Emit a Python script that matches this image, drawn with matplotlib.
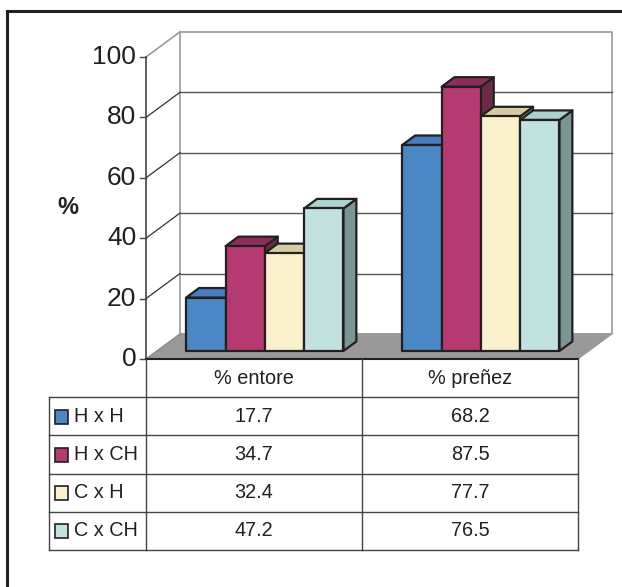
import numpy as np
import matplotlib
matplotlib.use("Agg")
import matplotlib.pyplot as plt
from matplotlib.lines import Line2D

plt.rcParams['font.family'] = ['Liberation Sans', 'DejaVu Sans']

# datos
categorias = ['% entore', '% preñez']
series = ['H x H', 'H x CH', 'C x H', 'C x CH']
valores = {
    'H x H': [17.7, 68.2],
    'H x CH': [34.7, 87.5],
    'C x H': [32.4, 77.7],
    'C x CH': [47.2, 76.5],
}
ticks_y = [0, 20, 40, 60, 80, 100]

# colores: frente, tapa, lateral
colores = {
    'H x H': ('#4b87c5', '#4a7cc0', '#2f5a8a'),
    'H x CH': ('#b53a72', '#8e2d5b', '#6c2c47'),
    'C x H': ('#faf0ce', '#d6cca4', '#a8a080'),
    'C x CH': ('#c2e2e0', '#acd2cf', '#7a9694'),
}
borde = '#231f20'

# profundidad del grafico 3D (en unidades de datos)
DX, DY = 0.157, 8.3
Z0, Z1 = 0.32, 0.70
ANCHO = 0.182


def p(x, y, z):
    return x + z * DX, y + z * DY


def cara(ax, pts, color, lw=1.6, ec=borde, z=3):
    xs = [q[0] for q in pts]
    ys = [q[1] for q in pts]
    ax.fill(xs, ys, facecolor=color, edgecolor=ec, linewidth=lw,
            clip_on=False, zorder=z, joinstyle='round')


W, H = 622, 587
fig = plt.figure(figsize=(W / 100, H / 100), dpi=100)

# ejes principales: x 146..578 px, y 359..57 px
ax = fig.add_axes([146 / W, (H - 359) / H, (578 - 146) / W, (359 - 57) / H])
ax.set_xlim(0, 2)
ax.set_ylim(0, 100)
ax.axis('off')

# pared del fondo
fondo = [p(0, 0, 1), p(2, 0, 1), p(2, 100, 1), p(0, 100, 1)]
cara(ax, fondo, 'white', lw=1.2, ec='#999999', z=0)
# piso
piso = [p(0, 0, 0), p(2, 0, 0), p(2, 0, 1), p(0, 0, 1)]
cara(ax, piso, '#999999', lw=0.8, ec='#999999', z=1)

# grilla en la pared del fondo y en la pared lateral
for t in ticks_y[1:-1]:
    x0, y0 = p(0, t, 1)
    x1, y1 = p(2, t, 1)
    ax.plot([x0, x1], [y0, y1], color='#555555', lw=1.0, clip_on=False, zorder=1)
    xa, ya = p(0, t, 0)
    ax.plot([xa, x0], [ya, y0], color='#333333', lw=0.9, clip_on=False, zorder=1)
xa, ya = p(0, 100, 0)
xb, yb = p(0, 100, 1)
ax.plot([xa, xb], [ya, yb], color='#999999', lw=1.2, clip_on=False, zorder=1)
xa, ya = p(0, 0, 0)
xb, yb = p(0, 0, 1)
ax.plot([xa, xb], [ya, yb], color='#888888', lw=0.8, clip_on=False, zorder=1)

# eje y
ax.plot([0, 0], [0, 100], color='#444444', lw=1.2, clip_on=False, zorder=2)
for t in ticks_y:
    ax.plot([-0.028, 0], [t, t], color='#444444', lw=1.0, clip_on=False, zorder=2)
    ax.text(-0.045, t, str(t), ha='right', va='center', fontsize=19, color='#231f20')
ax.text(-0.361, 50.3, '%', ha='center', va='center', fontsize=17, fontweight='bold',
        color='#231f20')

# barras
for c in range(len(categorias)):
    x_ini = c + (1 - ANCHO * len(series)) / 2
    for i, s in enumerate(series):
        v = valores[s][c]
        xl = x_ini + i * ANCHO
        xr = xl + ANCHO
        fr, tp, ld = colores[s]
        cara(ax, [p(xr, 0, Z0), p(xr, 0, Z1), p(xr, v, Z1), p(xr, v, Z0)], ld)
        cara(ax, [p(xl, v, Z0), p(xr, v, Z0), p(xr, v, Z1), p(xl, v, Z1)], tp)
        cara(ax, [p(xl, 0, Z0), p(xr, 0, Z0), p(xr, v, Z0), p(xl, v, Z0)], fr)

# borde frontal del piso
ax.plot([0, 2], [0, 0], color='#231f20', lw=1.5, clip_on=False, zorder=4)

# tabla de datos
at = fig.add_axes([49 / W, (H - 550) / H, (578 - 49) / W, (550 - 359) / H])
x_izq = -97 / 216
at.set_xlim(x_izq, 2)
at.set_ylim(5, 0)
at.axis('off')
lc = '#444444'
# encabezado
for xv in [0, 1, 2]:
    at.plot([xv, xv], [0, 5], color=lc, lw=1.0, clip_on=False)
at.plot([x_izq, x_izq], [1, 5], color=lc, lw=1.0, clip_on=False)
for r in range(1, 6):
    at.plot([x_izq, 2], [r, r], color=lc, lw=1.0, clip_on=False)
for c, nombre in enumerate(categorias):
    at.text(c + 0.5, 0.5, nombre, ha='center', va='center', fontsize=14.3,
            color='#231f20')
for i, s in enumerate(series):
    fila = i + 1.5
    at.add_patch(plt.Rectangle((x_izq + 0.026, fila - 0.17), 0.062, 0.36,
                               facecolor=colores[s][0], edgecolor=borde, lw=1.2,
                               clip_on=False))
    at.text(x_izq + 0.115, fila, s, ha='left', va='center', fontsize=14.3,
            color='#231f20')
    for c in range(len(categorias)):
        at.text(c + 0.5, fila, f'{valores[s][c]:.1f}', ha='center', va='center',
                fontsize=14.3, color='#231f20')

# marco exterior
fig.add_artist(Line2D([7 / W, 7 / W], [0, 1 - 11 / H], transform=fig.transFigure,
                      color='#231f20', lw=2.2))
fig.add_artist(Line2D([7 / W, 1], [1 - 11 / H, 1 - 11 / H], transform=fig.transFigure,
                      color='#231f20', lw=2.2))

fig.savefig('out.png', dpi=100, facecolor='white')
